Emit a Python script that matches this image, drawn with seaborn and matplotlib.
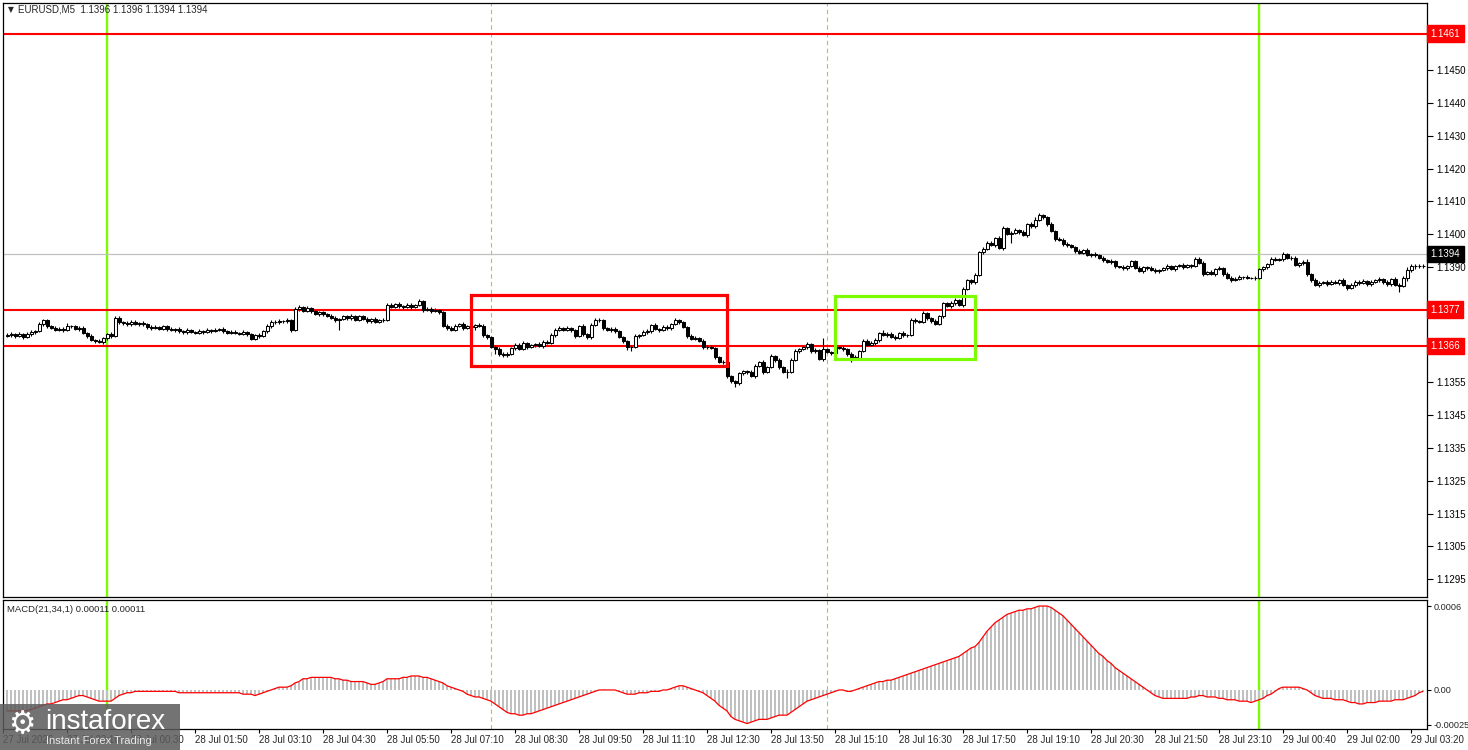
import numpy as np
import matplotlib
matplotlib.use("Agg")
import matplotlib.pyplot as plt
import matplotlib.transforms as mtransforms
from matplotlib.patches import Rectangle
import seaborn as sns

sns.set_theme(style="white")
plt.rcParams["font.family"] = ["Liberation Sans", "DejaVu Sans"]

# ---------------- data ----------------
symbol = "EURUSD,M5"
header_ohlc = "1.1396 1.1396 1.1394 1.1394"
macd_title = "MACD(21,34,1) 0.00011 0.00011"
PIP = 0.0001
BASE = 1.13
first_open_pips = 69.0

# closes in pips above 1.1300
close_pips = [
    69.4, 69.8, 68.9, 69.5, 68.8, 69.6, 70.4, 70.6, 72.6, 73.8,
    72.0, 71.5, 71.0, 71.3, 70.9, 72.2, 72.0, 71.2, 71.6, 70.0,
    69.0, 67.9, 67.5, 67.2, 68.3, 69.5, 68.9, 74.6, 73.3, 73.0,
    72.6, 73.4, 72.7, 73.0, 72.6, 71.8, 71.5, 71.9, 71.3, 72.0,
    71.2, 70.8, 71.3, 70.5, 70.3, 70.8, 70.4, 70.1, 70.5, 70.2,
    70.9, 70.6, 71.0, 71.2, 70.5, 70.0, 70.4, 70.0, 69.8, 70.2,
    69.6, 68.2, 69.3, 69.0, 70.5, 72.0, 73.4, 73.2, 73.6, 73.5,
    73.8, 71.0, 77.3, 77.8, 76.8, 77.6, 76.5, 75.8, 76.2, 75.6,
    75.2, 74.5, 74.0, 74.2, 75.0, 74.4, 75.2, 74.0, 75.0, 74.3,
    73.6, 74.2, 73.4, 73.8, 74.0, 78.6, 78.0, 78.8, 78.2, 77.9,
    78.6, 78.0, 78.5, 79.8, 77.0, 77.4, 76.6, 76.9, 76.4, 72.2,
    71.6, 71.0, 72.2, 72.6, 71.6, 72.0, 71.8, 72.4, 72.2, 69.2,
    68.6, 65.8, 65.2, 63.6, 63.2, 63.6, 65.4, 66.4, 65.2, 66.8,
    65.8, 66.2, 66.6, 66.0, 67.3, 67.0, 69.3, 71.0, 71.6, 71.0,
    71.5, 70.8, 69.0, 72.0, 69.6, 68.6, 72.4, 74.0, 73.8, 71.4,
    71.0, 71.3, 70.5, 68.6, 67.4, 65.8, 65.6, 69.0, 69.4, 70.4,
    70.5, 72.4, 71.2, 71.0, 71.8, 71.5, 72.6, 73.8, 73.2, 71.8,
    69.0, 68.2, 68.4, 67.6, 65.6, 65.8, 65.4, 62.6, 61.2, 61.0,
    56.8, 55.2, 54.6, 57.8, 58.3, 58.0, 56.8, 60.0, 61.2, 58.2,
    59.6, 63.0, 61.7, 59.6, 58.0, 58.2, 61.8, 64.6, 65.0, 65.6,
    66.6, 64.4, 64.8, 62.0, 65.0, 64.2, 64.0, 65.8, 65.4, 65.0,
    63.6, 62.8, 62.4, 64.6, 67.6, 66.4, 67.0, 67.8, 70.0, 69.4,
    69.8, 68.8, 68.4, 70.0, 69.2, 69.3, 74.0, 73.6, 73.4, 76.0,
    74.4, 73.6, 72.8, 75.0, 79.0, 78.2, 79.0, 80.0, 78.4, 83.5,
    86.0, 85.4, 87.6, 94.6, 95.6, 97.5, 96.8, 99.0, 95.8, 101.8,
    100.2, 100.5, 101.2, 100.8, 99.8, 103.0, 102.4, 104.5, 105.8, 105.2,
    103.0, 101.0, 98.6, 98.4, 97.0, 96.6, 96.0, 95.0, 94.4, 95.2,
    93.8, 94.0, 93.6, 92.9, 92.2, 91.6, 91.8, 90.2, 90.0, 89.6,
    90.4, 91.8, 89.8, 88.8, 90.0, 89.6, 89.2, 88.8, 89.0, 89.6,
    90.4, 89.4, 90.2, 90.8, 90.0, 90.6, 90.4, 92.6, 91.4, 88.0,
    88.4, 88.0, 89.4, 89.8, 87.8, 86.8, 86.2, 86.4, 86.9, 87.0,
    86.8, 86.6, 86.8, 89.4, 90.0, 91.0, 92.6, 92.3, 92.6, 94.0,
    92.8, 92.9, 90.6, 91.2, 91.6, 87.8, 86.0, 84.6, 85.2, 85.6,
    85.0, 85.6, 85.2, 86.0, 84.6, 83.6, 84.6, 85.6, 85.2, 85.8,
    84.8, 85.6, 86.0, 86.4, 85.4, 84.8, 86.4, 84.6, 84.4, 86.8,
    89.0, 90.4, 90.5, 90.2, 90.4,
]

# upper / lower wick lengths, tenths of a pip
up_wick = [
    5, 6, 3, 8, 4, 6, 5, 3, 6, 4,   5, 3, 6, 4, 5, 7, 3, 5, 4, 6,
    4, 5, 3, 6, 4, 5, 7, 6, 5, 3,   6, 4, 5, 3, 6, 4, 5, 6, 3, 5,
    4, 6, 3, 5, 4, 6, 5, 3, 6, 4,   5, 4, 6, 3, 5, 4, 6, 5, 3, 6,
    4, 5, 3, 6, 5, 8, 4, 6, 5, 3,   6, 4, 5, 8, 3, 6, 4, 5, 6, 3,
    5, 4, 6, 3, 5, 4, 6, 3, 5, 4,   6, 3, 5, 4, 6, 5, 6, 4, 5, 3,
    5, 6, 4, 6, 3, 5, 4, 6, 5, 3,   4, 6, 5, 3, 6, 4, 5, 3, 6, 4,
    5, 3, 6, 4, 5, 6, 3, 5, 4, 6,   4, 5, 3, 6, 4, 5, 6, 4, 5, 3,
    6, 4, 5, 3, 6, 4, 5, 6, 4, 5,   3, 6, 4, 5, 3, 4, 5, 6, 4, 5,
    6, 3, 5, 4, 6, 5, 4, 6, 3, 5,   4, 5, 6, 3, 5, 4, 6, 3, 5, 4,
    5, 4, 6, 3, 5, 4, 6, 5, 3, 6,   4, 5, 3, 6, 4, 8, 5, 6, 4, 5,
    6, 3, 5, 4, 35, 5, 4, 6, 3, 5,  4, 6, 5, 3, 6, 4, 5, 6, 4, 10,
    5, 4, 6, 3, 5, 4, 6, 5, 3, 6,   4, 5, 6, 3, 5, 4, 6, 5, 4, 6,
    5, 3, 6, 4, 5, 4, 6, 3, 5, 6,   4, 5, 6, 3, 5, 4, 8, 8, 6, 5,
    4, 6, 3, 5, 4, 6, 5, 3, 6, 4,   5, 4, 6, 3, 5, 4, 6, 5, 3, 6,
    4, 5, 3, 6, 4, 5, 6, 4, 5, 3,   6, 4, 5, 3, 6, 4, 5, 6, 4, 5,
    3, 6, 4, 5, 3, 6, 4, 5, 6, 4,   5, 3, 6, 4, 5, 4, 6, 5, 3, 6,
    4, 5, 6, 3, 5, 8, 4, 6, 5, 3,   6, 4, 5, 3, 6, 4, 5, 6, 4, 5,
    3, 6, 4, 5, 3, 6, 4, 5, 6, 4,   10, 5, 4, 6, 5,
]
dn_wick = [
    4, 6, 5, 3, 6, 4, 5, 6, 3, 5,   6, 4, 5, 3, 6, 4, 5, 3, 6, 4,
    5, 3, 6, 4, 5, 6, 4, 3, 5, 6,   4, 5, 3, 6, 4, 5, 6, 3, 5, 4,
    6, 3, 5, 4, 6, 5, 3, 6, 4, 5,   3, 6, 4, 5, 6, 3, 5, 4, 6, 5,
    6, 4, 5, 6, 3, 5, 4, 6, 5, 4,   5, 6, 3, 5, 4, 6, 5, 3, 6, 4,
    5, 3, 6, 30, 4, 5, 6, 3, 5, 4,  6, 5, 4, 3, 6, 3, 5, 4, 6, 5,
    3, 6, 5, 4, 6, 3, 5, 4, 6, 5,   6, 4, 5, 3, 6, 5, 4, 10, 5, 6,
    4, 5, 15, 6, 4, 5, 3, 6, 4, 5,  6, 3, 5, 4, 6, 5, 4, 6, 3, 5,
    4, 6, 5, 3, 6, 4, 5, 3, 6, 4,   5, 6, 4, 3, 5, 10, 10, 3, 5, 4,
    6, 5, 3, 6, 4, 5, 6, 3, 5, 4,   6, 4, 5, 3, 6, 5, 4, 6, 5, 4,
    5, 6, 12, 4, 5, 6, 3, 5, 4, 6,  5, 4, 6, 5, 3, 17, 5, 4, 6, 3,
    5, 4, 6, 3, 5, 4, 6, 5, 4, 6,   5, 18, 4, 6, 3, 5, 4, 6, 5, 4,
    6, 3, 5, 4, 6, 5, 3, 6, 4, 5,   4, 6, 5, 3, 6, 4, 5, 6, 3, 5,
    6, 4, 5, 3, 6, 5, 4, 6, 3, 5,   4, 30, 5, 6, 3, 5, 4, 6, 5, 4,
    6, 3, 5, 4, 6, 5, 3, 6, 4, 5,   4, 6, 5, 3, 6, 4, 5, 6, 3, 5,
    6, 4, 5, 3, 6, 5, 4, 6, 5, 3,   5, 4, 6, 3, 5, 4, 6, 5, 3, 6,
    4, 5, 6, 3, 5, 4, 6, 5, 4, 6,   5, 3, 6, 4, 5, 6, 3, 5, 4, 6,
    4, 5, 3, 6, 4, 5, 6, 3, 5, 4,   6, 5, 4, 6, 3, 5, 4, 6, 5, 4,
    5, 6, 3, 5, 4, 6, 5, 3, 20, 4,  10, 5, 10, 4, 5,
]

# MACD main values in units of 1e-5
macd_e5 = [
    -15, -15, -15, -15, -15, -15, -14, -13, -12, -11,
    -10, -10, -9, -8, -7, -7, -6, -5, -4, -4,
    -5, -6, -7, -8, -8, -8, -8, -6, -4, -3,
    -2, -2, -1, -1, -1, -1, -1, -1, -1, -1,
    -1, -1, -1, -2, -2, -2, -2, -2, -2, -2,
    -2, -2, -2, -2, -2, -2, -2, -2, -2, -3,
    -3, -3, -4, -3, -2, -1, 0, 1, 2, 2,
    2, 3, 5, 6, 8, 8, 9, 9, 9, 9,
    9, 9, 8, 8, 7, 7, 6, 6, 6, 6,
    5, 4, 4, 5, 6, 8, 8, 8, 8, 9,
    9, 10, 10, 10, 9, 9, 8, 7, 6, 5,
    3, 2, 1, 0, -1, -3, -4, -5, -5, -6,
    -7, -8, -10, -12, -14, -16, -17, -17, -18, -18,
    -17, -17, -16, -15, -14, -13, -12, -11, -10, -9,
    -8, -7, -6, -5, -4, -3, -2, -1, 0, 0,
    0, 0, 0, -1, -2, -3, -3, -3, -2, -2,
    -2, -1, -1, -1, 0, 0, 1, 2, 3, 3,
    2, 1, 0, -1, -2, -4, -6, -8, -11, -13,
    -15, -19, -21, -22, -23, -24, -23, -22, -21, -21,
    -21, -20, -19, -18, -18, -18, -16, -14, -12, -10,
    -8, -7, -6, -5, -4, -3, -2, -1, 0, 0,
    -1, -1, 0, 1, 2, 3, 4, 5, 6, 6,
    7, 7, 8, 9, 10, 11, 12, 13, 14, 15,
    16, 17, 18, 19, 20, 21, 22, 23, 24, 26,
    28, 30, 31, 34, 38, 42, 45, 48, 50, 52,
    54, 55, 56, 57, 57, 58, 58, 59, 60, 60,
    60, 59, 57, 55, 53, 50, 47, 44, 41, 38,
    35, 32, 29, 26, 24, 21, 19, 16, 14, 12,
    10, 8, 6, 4, 2, 0, -2, -4, -5, -6,
    -6, -6, -6, -6, -6, -6, -5, -5, -4, -4,
    -5, -5, -5, -6, -6, -7, -7, -7, -8, -8,
    -8, -9, -8, -7, -6, -4, -3, -1, 1, 2,
    2, 2, 2, 2, 1, 0, -2, -4, -5, -6,
    -6, -6, -7, -7, -7, -8, -9, -9, -10, -10,
    -9, -9, -9, -8, -8, -8, -8, -7, -7, -7,
    -6, -5, -4, -2, -1,
]

level_prices = [1.1461, 1.1377, 1.1366]
last_price = 1.1394
price_ticks = [1.1450, 1.1440, 1.1430, 1.1420, 1.1410, 1.1400, 1.1390,
               1.1355, 1.1345, 1.1335, 1.1325, 1.1315, 1.1305, 1.1295]
macd_ticks = [0.0006, 0.0, -0.00025]
macd_tick_labels = ["0.0006", "0.00", "-0.00025"]
time_labels = ["27 Jul 2026", "27 Jul 23:10", "28 Jul 00:30", "28 Jul 01:50",
               "28 Jul 03:10", "28 Jul 04:30", "28 Jul 05:50", "28 Jul 07:10",
               "28 Jul 08:30", "28 Jul 09:50", "28 Jul 11:10", "28 Jul 12:30",
               "28 Jul 13:50", "28 Jul 15:10", "28 Jul 16:30", "28 Jul 17:50",
               "28 Jul 19:10", "28 Jul 20:30", "28 Jul 21:50", "28 Jul 23:10",
               "29 Jul 00:40", "29 Jul 02:00", "29 Jul 03:20"]
time_label_bars = [-1, 15, 31, 47, 63, 79, 95, 111, 127, 143, 159, 175, 191,
                   207, 223, 239, 255, 271, 287, 303, 319, 335, 351]
midnight_bars = [25, 313]
session_bars = [121, 205]
red_box = (116, 180, 1.13599, 1.13815)
green_box = (207, 242, 1.13620, 1.13812)

# ---------------- derived OHLC ----------------
n = min(len(close_pips), len(up_wick), len(dn_wick), len(macd_e5))
close = BASE + np.array(close_pips[:n]) * PIP
opn = np.concatenate([[BASE + first_open_pips * PIP], close[:-1]])
high = np.maximum(opn, close) + np.array(up_wick[:n]) / 10 * PIP
low = np.minimum(opn, close) - np.array(dn_wick[:n]) / 10 * PIP
macd = np.array(macd_e5[:n]) * 1e-5
idx = np.arange(n)

# ---------------- figure ----------------
W, H = 1468, 750
fig = plt.figure(figsize=(W / 100, H / 100), dpi=100, facecolor="white")
ax = fig.add_axes([3 / W, 1 - 597 / H, 1424 / W, 594 / H])
ax2 = fig.add_axes([3 / W, 1 - 729 / H, 1424 / W, 129 / H])

for a in (ax, ax2):
    a.set_facecolor("white")
    for s in a.spines.values():
        s.set_color("black")
        s.set_linewidth(0.9)
    a.set_xlim(-1, 355)

ax.set_ylim(1.12896, 1.14704)
ax2.set_ylim(-0.000279, 0.000643)

# vertical lines
for a in (ax, ax2):
    for b in midnight_bars:
        a.axvline(b, color="#7CFC00", lw=1.7, zorder=1)
    for b in session_bars:
        a.axvline(b, color="#86e03a", lw=0.8, ls=(0, (4, 3)), zorder=1)

# horizontal lines
ax.axhline(last_price, color="#c0c0c0", lw=0.9, zorder=1)
for lv in level_prices:
    ax.axhline(lv, color="#ff0000", lw=1.5, zorder=2)

# candles
ax.vlines(idx, low, high, color="black", lw=0.8, zorder=3)
bull = close >= opn
bottoms = np.minimum(opn, close)
heights = np.maximum(np.abs(close - opn), 1e-7)
ax.bar(idx[bull], heights[bull], bottom=bottoms[bull], width=0.75,
       color="white", edgecolor="black", linewidth=0.75, zorder=4)
ax.bar(idx[~bull], heights[~bull], bottom=bottoms[~bull], width=0.75,
       color="black", edgecolor="black", linewidth=0.75, zorder=4)

# rectangles
x0, x1, y0, y1 = red_box
ax.add_patch(Rectangle((x0, y0), x1 - x0, y1 - y0, fill=False,
                       ec="#ff0000", lw=2.3, zorder=5))
x0, x1, y0, y1 = green_box
ax.add_patch(Rectangle((x0, y0), x1 - x0, y1 - y0, fill=False,
                       ec="#7CFC00", lw=2.3, zorder=5))

# right price axis
ax.set_xticks([])
ax.yaxis.tick_right()
ax.set_yticks(price_ticks)
ax.set_yticklabels([f"{v:.4f}" for v in price_ticks])
ax.tick_params(axis="y", which="both", right=True, left=False, labelright=True,
               labelleft=False, length=4, width=0.8, color="black",
               labelsize=7, pad=3, labelcolor="black")
trans = mtransforms.blended_transform_factory(ax.transAxes, ax.transData)
for lv in level_prices:
    ax.text(1.0025, lv, f"{lv:.4f}", transform=trans, ha="left", va="center",
            fontsize=7, color="white", zorder=10, clip_on=False,
            bbox=dict(boxstyle="square,pad=0.35", fc="#ff0000", ec="#ff0000"))
ax.text(1.0025, last_price, f"{last_price:.4f}", transform=trans, ha="left",
        va="center", fontsize=7, color="white", zorder=10, clip_on=False,
        bbox=dict(boxstyle="square,pad=0.35", fc="black", ec="black"))

# MACD panel
ax2.bar(idx, macd, width=0.5, color="#c0c0c0", linewidth=0, zorder=2)
sns.lineplot(x=idx, y=macd, ax=ax2, color="#ff0000", lw=0.9, zorder=3)
ax2.set_xlabel("")
ax2.set_ylabel("")
ax2.yaxis.tick_right()
ax2.set_yticks(macd_ticks)
ax2.set_yticklabels(macd_tick_labels)
ax2.tick_params(axis="y", which="both", right=True, left=False, labelright=True,
                labelleft=False, length=3, width=0.8, color="black",
                labelsize=6.6, pad=1.5)
ax2.set_xticks(time_label_bars)
ax2.set_xticklabels(time_labels)
ax2.tick_params(axis="x", bottom=True, direction="out", length=3, width=0.8,
                color="black", labelsize=7, pad=1.5)
for lab in ax2.get_xticklabels():
    lab.set_ha("left")

# header texts
fig.text(8 / W, 1 - 10 / H, "\u25BC", fontsize=5.5, va="center", ha="left",
         family="DejaVu Sans")
fig.text(18 / W, 1 - 10 / H, f"{symbol}  {header_ohlc}", fontsize=7,
         va="center", ha="left")
fig.text(7 / W, 1 - 609 / H, macd_title, fontsize=6.8, va="center", ha="left")

# watermark logo
fig.patches.append(Rectangle((0, 0), 180 / W, 46 / H, transform=fig.transFigure,
                             fc="#5b5b5b", ec="none", alpha=0.85, zorder=20))
fig.text(8 / W, 1 - 725 / H, "\u2699", fontsize=22, color="white",
         va="center", ha="left", zorder=21, family="DejaVu Sans")
fig.text(45 / W, 1 - 722 / H, "instaforex", fontsize=20, color="white",
         va="center", ha="left", zorder=21)
fig.text(46 / W, 1 - 741 / H, "Instant Forex Trading", fontsize=8,
         color="#e8e8e8", va="center", ha="left", zorder=21)

fig.savefig("out.png", dpi=100, facecolor="white")
